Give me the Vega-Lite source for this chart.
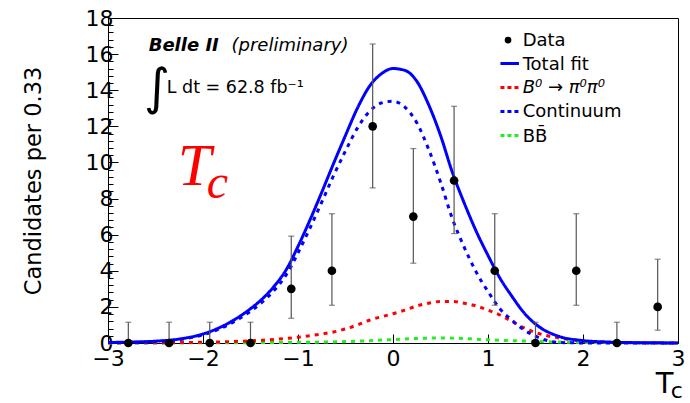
{
  "$schema": "https://vega.github.io/schema/vega-lite/v6.json",
  "width": 570,
  "height": 325,
  "autosize": {"type": "none"},
  "padding": {"left": 108, "top": 18, "right": 12, "bottom": 60},
  "background": "white",
  "config": {
    "view": {"stroke": "black", "strokeWidth": 1},
    "font": "DejaVu Sans",
    "axis": {"grid": false, "domainColor": "black", "tickColor": "black", "labelColor": "black", "titleColor": "black", "domainWidth": 1, "tickWidth": 1}
  },
  "datasets": {
    "curves": [
      {"x": -3, "Total fit": 0.03, "B⁰ → π⁰π⁰": 0.005, "Continuum": 0.025, "BB̄": 0},
      {"x": -2.75, "Total fit": 0.05, "B⁰ → π⁰π⁰": 0.008, "Continuum": 0.04, "BB̄": 0.002},
      {"x": -2.5, "Total fit": 0.1, "B⁰ → π⁰π⁰": 0.015, "Continuum": 0.081, "BB̄": 0.004},
      {"x": -2.25, "Total fit": 0.22, "B⁰ → π⁰π⁰": 0.025, "Continuum": 0.189, "BB̄": 0.006},
      {"x": -2, "Total fit": 0.5, "B⁰ → π⁰π⁰": 0.04, "Continuum": 0.45, "BB̄": 0.01},
      {"x": -1.75, "Total fit": 1.05, "B⁰ → π⁰π⁰": 0.07, "Continuum": 0.965, "BB̄": 0.015},
      {"x": -1.5, "Total fit": 1.9, "B⁰ → π⁰π⁰": 0.12, "Continuum": 1.76, "BB̄": 0.02},
      {"x": -1.375, "Total fit": 2.45, "B⁰ → π⁰π⁰": 0.15, "Continuum": 2.275, "BB̄": 0.025},
      {"x": -1.25, "Total fit": 3.15, "B⁰ → π⁰π⁰": 0.2, "Continuum": 2.92, "BB̄": 0.03},
      {"x": -1.125, "Total fit": 4.05, "B⁰ → π⁰π⁰": 0.25, "Continuum": 3.765, "BB̄": 0.035},
      {"x": -1, "Total fit": 5.35, "B⁰ → π⁰π⁰": 0.32, "Continuum": 4.99, "BB̄": 0.04},
      {"x": -0.875, "Total fit": 6.8, "B⁰ → π⁰π⁰": 0.4, "Continuum": 6.355, "BB̄": 0.045},
      {"x": -0.75, "Total fit": 8.35, "B⁰ → π⁰π⁰": 0.5, "Continuum": 7.8, "BB̄": 0.05},
      {"x": -0.625, "Total fit": 9.95, "B⁰ → π⁰π⁰": 0.61, "Continuum": 9.28, "BB̄": 0.06},
      {"x": -0.5, "Total fit": 11.5, "B⁰ → π⁰π⁰": 0.78, "Continuum": 10.64, "BB̄": 0.08},
      {"x": -0.375, "Total fit": 13.0, "B⁰ → π⁰π⁰": 1.0, "Continuum": 11.9, "BB̄": 0.1},
      {"x": -0.25, "Total fit": 14.2, "B⁰ → π⁰π⁰": 1.26, "Continuum": 12.81, "BB̄": 0.13},
      {"x": -0.125, "Total fit": 14.9, "B⁰ → π⁰π⁰": 1.45, "Continuum": 13.29, "BB̄": 0.16},
      {"x": 0, "Total fit": 15.2, "B⁰ → π⁰π⁰": 1.62, "Continuum": 13.39, "BB̄": 0.19},
      {"x": 0.125, "Total fit": 15.1, "B⁰ → π⁰π⁰": 1.82, "Continuum": 13.06, "BB̄": 0.22},
      {"x": 0.25, "Total fit": 14.5, "B⁰ → π⁰π⁰": 2.05, "Continuum": 12.2, "BB̄": 0.25},
      {"x": 0.375, "Total fit": 13.2, "B⁰ → π⁰π⁰": 2.2, "Continuum": 10.73, "BB̄": 0.27},
      {"x": 0.5, "Total fit": 11.5, "B⁰ → π⁰π⁰": 2.3, "Continuum": 8.92, "BB̄": 0.28},
      {"x": 0.625, "Total fit": 9.45, "B⁰ → π⁰π⁰": 2.3, "Continuum": 6.88, "BB̄": 0.27},
      {"x": 0.75, "Total fit": 7.75, "B⁰ → π⁰π⁰": 2.2, "Continuum": 5.3, "BB̄": 0.25},
      {"x": 0.875, "Total fit": 6.2, "B⁰ → π⁰π⁰": 2.05, "Continuum": 3.94, "BB̄": 0.21},
      {"x": 1, "Total fit": 4.85, "B⁰ → π⁰π⁰": 1.82, "Continuum": 2.85, "BB̄": 0.18},
      {"x": 1.125, "Total fit": 3.6, "B⁰ → π⁰π⁰": 1.55, "Continuum": 1.9, "BB̄": 0.15},
      {"x": 1.25, "Total fit": 2.6, "B⁰ → π⁰π⁰": 1.2, "Continuum": 1.27, "BB̄": 0.13},
      {"x": 1.375, "Total fit": 1.7, "B⁰ → π⁰π⁰": 0.85, "Continuum": 0.74, "BB̄": 0.11},
      {"x": 1.5, "Total fit": 1.05, "B⁰ → π⁰π⁰": 0.58, "Continuum": 0.38, "BB̄": 0.09},
      {"x": 1.75, "Total fit": 0.36, "B⁰ → π⁰π⁰": 0.28, "Continuum": 0.03, "BB̄": 0.05},
      {"x": 2, "Total fit": 0.135, "B⁰ → π⁰π⁰": 0.1, "Continuum": 0.005, "BB̄": 0.03},
      {"x": 2.25, "Total fit": 0.057, "B⁰ → π⁰π⁰": 0.035, "Continuum": 0.002, "BB̄": 0.02},
      {"x": 2.5, "Total fit": 0.023, "B⁰ → π⁰π⁰": 0.012, "Continuum": 0.001, "BB̄": 0.01},
      {"x": 2.75, "Total fit": 0.01, "B⁰ → π⁰π⁰": 0.005, "Continuum": 0, "BB̄": 0.005},
      {"x": 3, "Total fit": 0.002, "B⁰ → π⁰π⁰": 0.002, "Continuum": 0, "BB̄": 0}
    ],
    "points": [
      {"x": -2.786, "n": 0, "lo": 0, "hi": 1.15},
      {"x": -2.357, "n": 0, "lo": 0, "hi": 1.15},
      {"x": -1.929, "n": 0, "lo": 0, "hi": 1.15},
      {"x": -1.5, "n": 0, "lo": 0, "hi": 1.15},
      {"x": -1.071, "n": 3, "lo": 1.37, "hi": 5.92},
      {"x": -0.643, "n": 4, "lo": 2.09, "hi": 7.16},
      {"x": -0.214, "n": 12, "lo": 8.59, "hi": 16.56},
      {"x": 0.214, "n": 7, "lo": 4.42, "hi": 10.77},
      {"x": 0.643, "n": 9, "lo": 6.06, "hi": 13.11},
      {"x": 1.071, "n": 4, "lo": 2.09, "hi": 7.16},
      {"x": 1.5, "n": 0, "lo": 0, "hi": 1.15},
      {"x": 1.929, "n": 4, "lo": 2.09, "hi": 7.16},
      {"x": 2.357, "n": 0, "lo": 0, "hi": 1.15},
      {"x": 2.786, "n": 2, "lo": 0.71, "hi": 4.64}
    ],
    "one": [{}]
  },
  "resolve": {"axis": {"y": "independent"}},
  "layer": [
    {
      "data": {"name": "curves"},
      "transform": [{"fold": ["BB̄", "B⁰ → π⁰π⁰", "Continuum", "Total fit"], "as": ["series", "value"]}],
      "mark": {"type": "line", "interpolate": "monotone", "strokeWidth": 3, "strokeCap": "butt"},
      "encoding": {
        "x": {"field": "x", "type": "quantitative", "scale": {"domain": [-3, 3], "nice": false, "zero": false},
          "axis": {"title": null, "values": [-3, -2, -1, 0, 1, 2, 3], "format": "d", "tickSize": -9, "labelPadding": 14, "labelFont": "DejaVu Sans", "labelFontSize": 22, "labelFlush": false, "labelOverlap": false}},
        "y": {"field": "value", "type": "quantitative", "scale": {"domain": [0, 18], "nice": false},
          "axis": {"orient": "left", "title": "Candidates per 0.33", "values": [0, 2, 4, 6, 8, 10, 12, 14, 16, 18], "format": "d", "tickSize": -10, "labelPadding": 5, "labelFont": "DejaVu Sans", "labelFontSize": 22, "titleFont": "DejaVu Sans", "titleFontSize": 22.5, "titleFontWeight": "normal", "titlePadding": 40}},
        "color": {"field": "series", "type": "nominal",
          "scale": {"domain": ["Total fit", "B⁰ → π⁰π⁰", "Continuum", "BB̄"], "range": ["#0000ff", "#ff0000", "#0000ff", "#22ee22"]}, "legend": null},
        "strokeDash": {"field": "series", "type": "nominal", "scale": {"domain": ["Total fit", "B⁰ → π⁰π⁰", "Continuum", "BB̄"], "range": [[1, 0], [4, 5], [4, 5], [4, 5]]}, "legend": null}
      }
    },
    {
      "data": {"name": "points"},
      "mark": {"type": "rule", "color": "#555555", "strokeWidth": 1.2},
      "encoding": {
        "x": {"field": "x", "type": "quantitative"},
        "y": {"field": "lo", "type": "quantitative",
          "axis": {"orient": "left", "title": null, "labels": false, "domain": false, "tickSize": -5, "values": [0.4, 0.8, 1.2, 1.6, 2.4, 2.8, 3.2, 3.6, 4.4, 4.8, 5.2, 5.6, 6.4, 6.8, 7.2, 7.6, 8.4, 8.8, 9.2, 9.6, 10.4, 10.8, 11.2, 11.6, 12.4, 12.8, 13.2, 13.6, 14.4, 14.8, 15.2, 15.6, 16.4, 16.8, 17.2, 17.6]}},
        "y2": {"field": "hi"}
      }
    },
    {
      "data": {"name": "points"},
      "transform": [{"fold": ["lo", "hi"], "as": ["end", "yv"]}],
      "mark": {"type": "tick", "orient": "horizontal", "color": "#555555", "size": 6, "thickness": 1.2},
      "encoding": {
        "x": {"field": "x", "type": "quantitative"},
        "y": {"field": "yv", "type": "quantitative", "axis": null}
      }
    },
    {
      "data": {"name": "points"},
      "mark": {"type": "point", "filled": true, "size": 75, "opacity": 1, "color": "black"},
      "encoding": {
        "x": {"field": "x", "type": "quantitative"},
        "y": {"field": "n", "type": "quantitative", "axis": null}
      }
    },
    {
      "data": {"name": "one"},
      "mark": {"type": "point", "filled": true, "size": 45, "opacity": 1, "color": "black"},
      "encoding": {"x": {"datum": 1.211, "type": "quantitative"}, "y": {"datum": 16.78, "type": "quantitative", "axis": null}}
    },
    {
      "data": {"name": "one"},
      "mark": {"type": "rule", "color": "#0000ff", "strokeWidth": 3},
      "encoding": {"x": {"datum": 1.131, "type": "quantitative"}, "x2": {"datum": 1.326}, "y": {"datum": 15.48, "type": "quantitative", "axis": null}}
    },
    {
      "data": {"name": "one"},
      "mark": {"type": "rule", "color": "#ff0000", "strokeWidth": 3, "strokeDash": [4, 3]},
      "encoding": {"x": {"datum": 1.131, "type": "quantitative"}, "x2": {"datum": 1.326}, "y": {"datum": 14.15, "type": "quantitative", "axis": null}}
    },
    {
      "data": {"name": "one"},
      "mark": {"type": "rule", "color": "#0000ff", "strokeWidth": 3, "strokeDash": [4, 3]},
      "encoding": {"x": {"datum": 1.131, "type": "quantitative"}, "x2": {"datum": 1.326}, "y": {"datum": 12.82, "type": "quantitative", "axis": null}}
    },
    {
      "data": {"name": "one"},
      "mark": {"type": "rule", "color": "#22ee22", "strokeWidth": 3, "strokeDash": [4, 3]},
      "encoding": {"x": {"datum": 1.131, "type": "quantitative"}, "x2": {"datum": 1.326}, "y": {"datum": 11.49, "type": "quantitative", "axis": null}}
    },
    {
      "data": {"name": "one"},
      "mark": {"type": "text", "text": "Data", "font": "DejaVu Sans", "fontSize": 18, "align": "left", "baseline": "alphabetic", "color": "black"},
      "encoding": {"x": {"datum": 1.365, "type": "quantitative"}, "y": {"datum": 16.47, "type": "quantitative", "axis": null}}
    },
    {
      "data": {"name": "one"},
      "mark": {"type": "text", "text": "Total fit", "font": "DejaVu Sans", "fontSize": 18, "align": "left", "baseline": "alphabetic", "color": "black"},
      "encoding": {"x": {"datum": 1.365, "type": "quantitative"}, "y": {"datum": 15.14, "type": "quantitative", "axis": null}}
    },
    {
      "data": {"name": "one"},
      "mark": {"type": "text", "text": "B⁰ → π⁰π⁰", "font": "DejaVu Sans", "fontSize": 18, "fontStyle": "italic", "align": "left", "baseline": "alphabetic", "color": "black"},
      "encoding": {"x": {"datum": 1.365, "type": "quantitative"}, "y": {"datum": 13.82, "type": "quantitative", "axis": null}}
    },
    {
      "data": {"name": "one"},
      "mark": {"type": "text", "text": "Continuum", "font": "DejaVu Sans", "fontSize": 18, "align": "left", "baseline": "alphabetic", "color": "black"},
      "encoding": {"x": {"datum": 1.365, "type": "quantitative"}, "y": {"datum": 12.49, "type": "quantitative", "axis": null}}
    },
    {
      "data": {"name": "one"},
      "mark": {"type": "text", "text": "BB̄", "font": "DejaVu Sans", "fontSize": 18, "align": "left", "baseline": "alphabetic", "color": "black"},
      "encoding": {"x": {"datum": 1.365, "type": "quantitative"}, "y": {"datum": 11.16, "type": "quantitative", "axis": null}}
    },
    {
      "data": {"name": "one"},
      "mark": {"type": "text", "text": "Belle II", "font": "DejaVu Sans", "fontSize": 18, "fontWeight": "bold", "fontStyle": "italic", "align": "left", "baseline": "alphabetic", "color": "black"},
      "encoding": {"x": {"datum": -2.572, "type": "quantitative"}, "y": {"datum": 16.2, "type": "quantitative", "axis": null}}
    },
    {
      "data": {"name": "one"},
      "mark": {"type": "text", "text": "(preliminary)", "font": "DejaVu Sans", "fontSize": 18, "fontStyle": "italic", "align": "left", "baseline": "alphabetic", "color": "black"},
      "encoding": {"x": {"datum": -1.7, "type": "quantitative"}, "y": {"datum": 16.2, "type": "quantitative", "axis": null}}
    },
    {
      "data": {"name": "one"},
      "mark": {"type": "text", "text": "∫", "font": "DejaVu Sans", "fontSize": 50, "align": "left", "baseline": "alphabetic", "color": "black"},
      "encoding": {"x": {"datum": -2.62, "type": "quantitative"}, "y": {"datum": 13.21, "type": "quantitative", "axis": null}}
    },
    {
      "data": {"name": "one"},
      "mark": {"type": "text", "text": "L dt = 62.8 fb⁻¹", "font": "DejaVu Sans", "fontSize": 17.5, "align": "left", "baseline": "alphabetic", "color": "black"},
      "encoding": {"x": {"datum": -2.382, "type": "quantitative"}, "y": {"datum": 13.82, "type": "quantitative", "axis": null}}
    },
    {
      "data": {"name": "one"},
      "mark": {"type": "text", "text": "T", "font": "Liberation Serif", "fontSize": 60, "fontStyle": "italic", "align": "left", "baseline": "alphabetic", "color": "#ff0000"},
      "encoding": {"x": {"datum": -2.266, "type": "quantitative"}, "y": {"datum": 8.73, "type": "quantitative", "axis": null}}
    },
    {
      "data": {"name": "one"},
      "mark": {"type": "text", "text": "c", "font": "Liberation Serif", "fontSize": 48, "fontStyle": "italic", "align": "left", "baseline": "alphabetic", "color": "#ff0000"},
      "encoding": {"x": {"datum": -1.96, "type": "quantitative"}, "y": {"datum": 8.01, "type": "quantitative", "axis": null}}
    },
    {
      "data": {"name": "one"},
      "mark": {"type": "text", "text": "T", "font": "DejaVu Sans", "fontSize": 29, "align": "left", "baseline": "alphabetic", "color": "black"},
      "encoding": {"x": {"datum": 2.765, "type": "quantitative"}, "y": {"datum": -2.78, "type": "quantitative", "axis": null}}
    },
    {
      "data": {"name": "one"},
      "mark": {"type": "text", "text": "c", "font": "DejaVu Sans", "fontSize": 22, "align": "left", "baseline": "alphabetic", "color": "black"},
      "encoding": {"x": {"datum": 2.923, "type": "quantitative"}, "y": {"datum": -3.03, "type": "quantitative", "axis": null}}
    }
  ]
}
